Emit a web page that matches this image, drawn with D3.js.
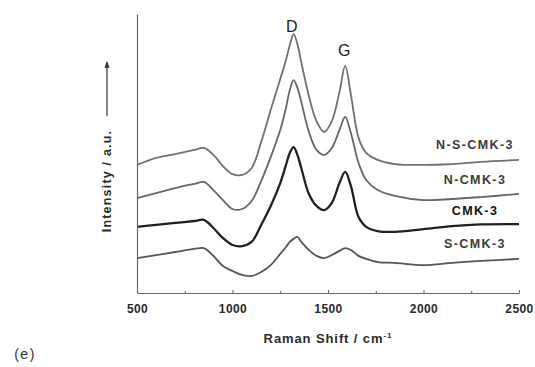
<!DOCTYPE html>
<html>
<head>
<meta charset="utf-8">
<script src="https://cdn.jsdelivr.net/npm/d3@7"></script>
<style>
  html, body { margin: 0; padding: 0; background: #fff; }
  svg { display: block; font-family: "Liberation Sans", Arial, sans-serif; }
</style>
</head>
<body>
<svg id="chart" width="535" height="367"></svg>
<script>
// Raman shift sampling (cm^-1) shared by every spectrum
const ramanShift = [500, 600, 700, 800, 850, 900, 950, 1000, 1050, 1100, 1150, 1200, 1250, 1280,
  1300, 1320, 1340, 1360, 1400, 1440, 1480, 1520, 1560, 1590, 1620, 1660, 1700, 1760, 1850,
  2000, 2150, 2300, 2500];

// Offset (stacked) intensities, a.u.
const nsCmk3 = [45.9, 48.4, 49.8, 51.3, 52.0, 49.5, 45.5, 42.6, 42.3, 44.8, 54.1, 65.6, 76.7, 83.5,
  88.9, 92.8, 89.2, 82.8, 70.6, 61.6, 57.7, 61.6, 72.0, 81.4, 71.0, 55.6, 50.2, 47.7, 46.2,
  45.9, 46.2, 47.0, 47.7];
const nCmk3 = [34.0, 35.8, 37.6, 39.1, 39.8, 36.9, 33.3, 30.1, 30.1, 33.0, 40.1, 48.7, 58.4, 66.3,
  72.8, 76.3, 73.5, 68.5, 57.7, 51.3, 49.5, 52.0, 58.4, 63.1, 57.3, 46.6, 40.5, 36.9, 34.8,
  33.3, 33.7, 34.4, 35.5];
const cmk3 = [23.7, 24.4, 25.1, 25.8, 26.2, 23.3, 19.7, 17.2, 16.8, 18.3, 24.4, 31.2, 39.4, 45.9,
  50.2, 52.3, 49.5, 44.8, 35.5, 31.2, 29.7, 32.3, 39.4, 43.4, 38.3, 27.2, 23.7, 22.2, 21.9,
  22.9, 24.0, 24.6, 24.7];
const sCmk3 = [12.5, 13.6, 14.7, 15.8, 16.1, 13.3, 9.7, 7.9, 6.5, 6.1, 7.5, 10.0, 14.0, 16.5,
  18.3, 19.4, 20.1, 18.3, 15.4, 13.3, 12.5, 13.6, 15.1, 16.1, 15.4, 13.3, 12.2, 11.1, 10.8,
  10.0, 10.8, 11.5, 12.2];

const seriesNames = ["N-S-CMK-3", "N-CMK-3", "CMK-3", "S-CMK-3"];
const seriesValues = [nsCmk3, nCmk3, cmk3, sCmk3];

const majorTicks = [500, 1000, 1500, 2000, 2500];
const minorTicks = [750, 1250, 1750, 2250];

// Band positions (cm^-1) and their names
const bandNames = ["D", "G"];
const bandShifts = [1310, 1585];

const xTitle = "Raman Shift / cm";
const yTitle = "Intensity / a.u.";
const panelTag = "(e)";

// ---- drawing ----
const svg = d3.select("#chart");
const x = d3.scaleLinear().domain([500, 2500]).range([137, 519]);
const y = d3.scaleLinear().domain([0, 100]).range([293, 14]);

const strokes = ["#707070", "#666666", "#202020", "#555555"];
const widths = [1.8, 1.8, 2.3, 1.8];

const line = d3.line()
  .x((d, i) => x(ramanShift[i]))
  .y(d => y(d))
  .curve(d3.curveCatmullRom.alpha(0.5));

svg.append("g").selectAll("path")
  .data(seriesValues)
  .join("path")
  .attr("fill", "none")
  .attr("stroke", (d, i) => strokes[i])
  .attr("stroke-width", (d, i) => widths[i])
  .attr("stroke-linejoin", "round")
  .attr("d", line);

// axes
const axisColor = "#666";
const textColor = "#2a2a2a";
const xAxis = svg.append("g")
  .attr("transform", `translate(0,${y(0)})`)
  .call(d3.axisBottom(x).tickValues(majorTicks).tickFormat(d3.format("d"))
    .tickSizeInner(-3).tickSizeOuter(0).tickPadding(11));
xAxis.select(".domain").attr("stroke", axisColor).attr("stroke-width", 1.2);
xAxis.selectAll(".tick line").attr("stroke", axisColor);
xAxis.selectAll(".tick text")
  .attr("fill", textColor).style("font-size", "12px")
  .style("font-weight", "bold").style("letter-spacing", "0.4px");

const xMinor = svg.append("g")
  .attr("transform", `translate(0,${y(0)})`)
  .call(d3.axisBottom(x).tickValues(minorTicks).tickFormat("").tickSizeInner(-2).tickSizeOuter(0));
xMinor.select(".domain").remove();
xMinor.selectAll(".tick line").attr("stroke", axisColor);

const yAxis = svg.append("g")
  .attr("transform", `translate(${x(500)},0)`)
  .call(d3.axisLeft(y).tickValues([]).tickSizeOuter(0));
yAxis.select(".domain").attr("stroke", axisColor).attr("stroke-width", 1.2);

// axis titles
const xt = svg.append("text")
  .attr("x", 328).attr("y", 343)
  .attr("text-anchor", "middle")
  .attr("fill", textColor)
  .style("font-size", "13px").style("font-weight", "bold").style("letter-spacing", "0.9px")
  .text(xTitle);
xt.append("tspan").attr("dy", -5).style("font-size", "8px").text("-1");

svg.append("text")
  .attr("transform", "translate(111,181) rotate(-90)")
  .attr("text-anchor", "middle")
  .attr("fill", textColor)
  .style("font-size", "12.5px").style("font-weight", "bold").style("letter-spacing", "1.2px")
  .text(yTitle);

// intensity arrow
svg.append("defs").append("marker")
  .attr("id", "arrowHead")
  .attr("viewBox", "0 0 10 10").attr("refX", 9).attr("refY", 5)
  .attr("markerWidth", 5).attr("markerHeight", 5).attr("orient", "auto")
  .append("path").attr("d", "M0,1L10,5L0,9Z").attr("fill", "#333");
svg.append("line")
  .attr("x1", 107).attr("y1", 116).attr("x2", 107).attr("y2", 62)
  .attr("stroke", "#444").attr("stroke-width", 1.3)
  .attr("marker-end", "url(#arrowHead)");

// series labels
const labelY = [149, 184, 215, 248];
svg.append("g").selectAll("text")
  .data(seriesNames)
  .join("text")
  .attr("x", 475)
  .attr("y", (d, i) => labelY[i])
  .attr("text-anchor", "middle")
  .attr("fill", (d, i) => i === 2 ? "#111" : "#3a3a3a")
  .style("font-size", "12.5px").style("letter-spacing", "1.4px")
  .style("font-weight", "bold")
  .text(d => d);

// D / G band markers above the top spectrum
const bandLabelY = [32, 56];
svg.append("g").selectAll("text")
  .data(bandNames)
  .join("text")
  .attr("x", (d, i) => x(bandShifts[i]))
  .attr("y", (d, i) => bandLabelY[i])
  .attr("text-anchor", "middle")
  .attr("fill", "#1e1e1e")
  .style("font-size", "16px")
  .text(d => d);

svg.append("text")
  .attr("x", 25).attr("y", 359)
  .attr("text-anchor", "middle")
  .attr("fill", "#333")
  .style("font-size", "14px").style("letter-spacing", "1.5px")
  .text(panelTag);
</script>
</body>
</html>
